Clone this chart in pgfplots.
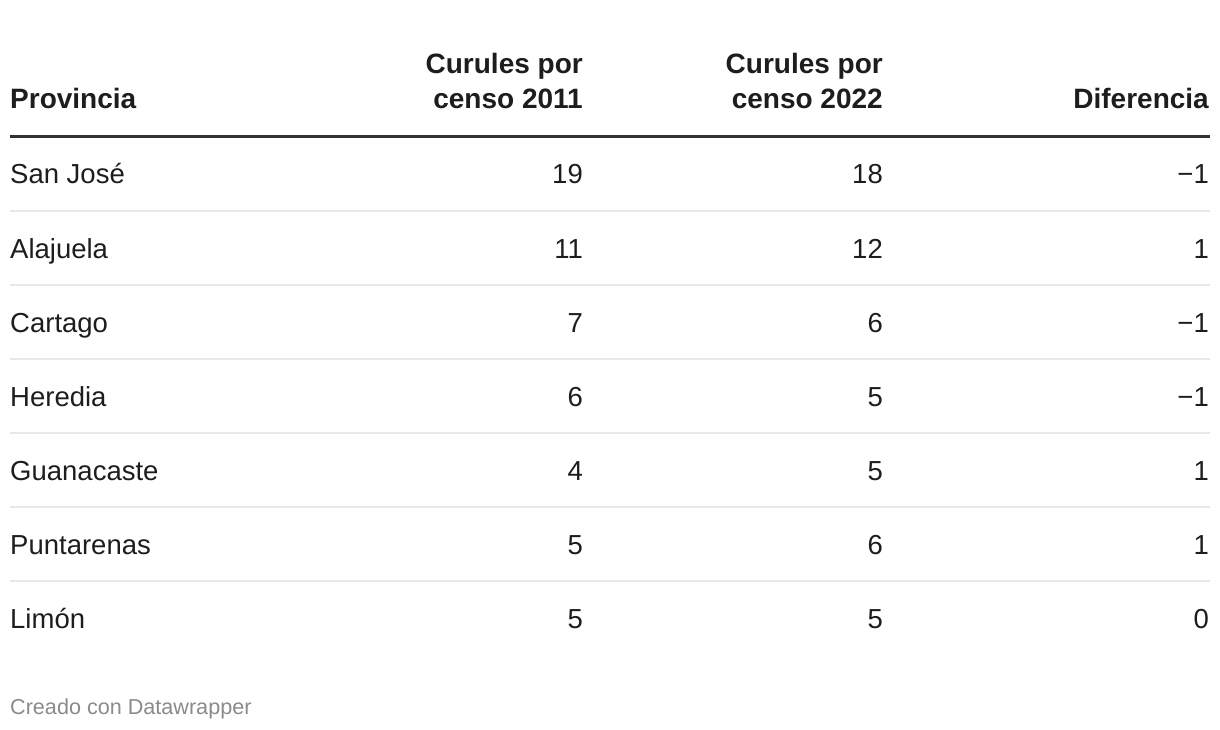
\documentclass[border=0pt]{standalone}
\usepackage{fontspec}
\setmainfont{Liberation Sans}
\usepackage{pgfplots}
\usepackage{pgfplotstable}
\pgfplotsset{compat=1.18}
\definecolor{ink}{HTML}{1D1D1D}
\definecolor{rulecol}{HTML}{333333}
\definecolor{sepcol}{HTML}{E8E8E8}
\definecolor{foot}{HTML}{8A8A8A}

\pgfplotstableread[col sep=comma]{
row,provincia,c2011,c2022,dif
0,San José,19,18,-1
1,Alajuela,11,12,1
2,Cartago,7,6,-1
3,Heredia,6,5,-1
4,Guanacaste,4,5,1
5,Puntarenas,5,6,1
6,Limón,5,5,0
}\curules

% minus sign instead of hyphen
\def\signoaux#1#2\relax{\ifx-#1−#2\else#1#2\fi}
\newcommand\signo{\edef\tmpmeta{\pgfplotspointmeta}\expandafter\signoaux\tmpmeta\relax}

\newcommand\bodyfont{\fontsize{27.5}{31}\selectfont}
\newcommand\headfont{\fontsize{28}{32}\selectfont\bfseries}

\begin{document}
\begin{tikzpicture}
\begin{axis}[
  width=1220pt, height=730pt, scale only axis,
  xmin=0, xmax=1220, ymin=0, ymax=730, y dir=reverse,
  enlargelimits=false, hide axis, clip=false,
  point meta=explicit symbolic,
  nodes near coords style={inner sep=0pt, font=\bodyfont, text=ink},
]
\path (rel axis cs:0,0) rectangle (rel axis cs:1,1);

% header
\node[anchor=base west, inner sep=0pt, font=\headfont, text=ink] at (axis cs:10,109) {Provincia};
\node[anchor=base east, inner sep=0pt, font=\headfont, text=ink] at (axis cs:583,74) {Curules por};
\node[anchor=base east, inner sep=0pt, font=\headfont, text=ink] at (axis cs:583,109) {censo 2011};
\node[anchor=base east, inner sep=0pt, font=\headfont, text=ink] at (axis cs:883,74) {Curules por};
\node[anchor=base east, inner sep=0pt, font=\headfont, text=ink] at (axis cs:883,109) {censo 2022};
\node[anchor=base east, inner sep=0pt, font=\headfont, text=ink] at (axis cs:1209,109) {Diferencia};
\draw[rulecol, line width=3pt] (axis cs:10,136.5) -- (axis cs:1210,136.5);

% row separators
\pgfplotsinvokeforeach{0,...,5}{
  \draw[sepcol, line width=1.5pt] (axis cs:10,{211+74*#1}) -- (axis cs:1210,{211+74*#1});
}

% body
\addplot[draw=none, nodes near coords={\pgfplotspointmeta},
  nodes near coords style={anchor=base west}]
  table[x expr=10, y expr=184+74*\thisrow{row}, meta=provincia] {\curules};
\addplot[draw=none, nodes near coords={\signo},
  nodes near coords style={anchor=base east}]
  table[x expr=583, y expr=184+74*\thisrow{row}, meta=c2011] {\curules};
\addplot[draw=none, nodes near coords={\signo},
  nodes near coords style={anchor=base east}]
  table[x expr=883, y expr=184+74*\thisrow{row}, meta=c2022] {\curules};
\addplot[draw=none, nodes near coords={\signo},
  nodes near coords style={anchor=base east}]
  table[x expr=1209, y expr=184+74*\thisrow{row}, meta=dif] {\curules};

% footer
\node[anchor=base west, inner sep=0pt, font=\fontsize{21.6}{24}\selectfont, text=foot] at (axis cs:10,714) {Creado con Datawrapper};
\end{axis}
\end{tikzpicture}
\end{document}
